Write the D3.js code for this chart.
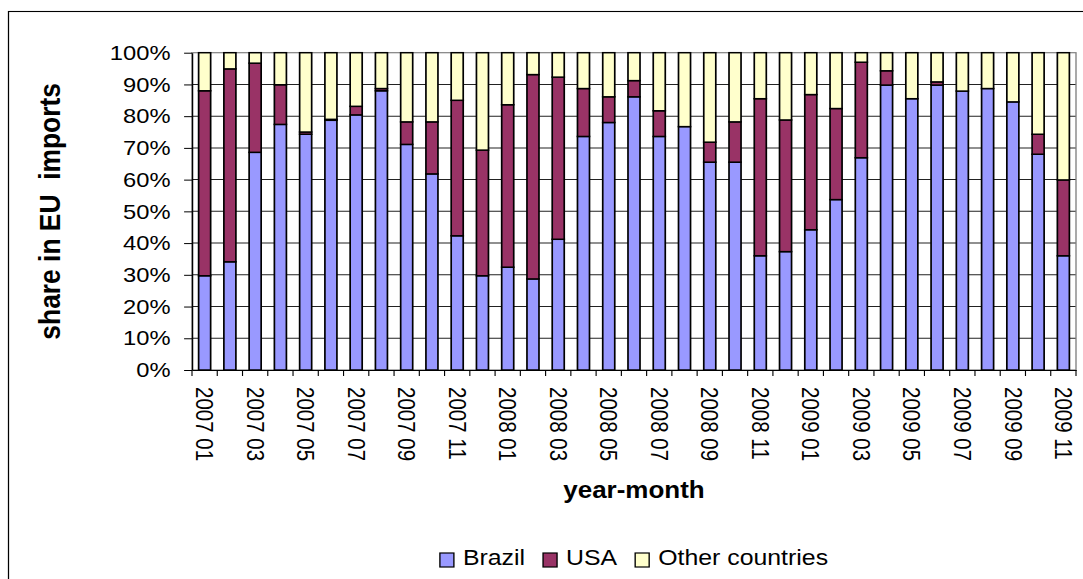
<!DOCTYPE html>
<html>
<head>
<meta charset="utf-8">
<script src="https://cdn.jsdelivr.net/npm/d3@7"></script>
<style>
  html, body { margin: 0; padding: 0; background: #fff; overflow: hidden; }
  svg { display: block; }
  text { font-family: "Liberation Sans", Arial, sans-serif; fill: #000; }
</style>
</head>
<body>
<svg id="chart" width="1083" height="579"></svg>
<script>
// Monthly categories, January 2007 to November 2009
const months = [
  "2007 01","2007 02","2007 03","2007 04","2007 05","2007 06","2007 07","2007 08","2007 09","2007 10","2007 11","2007 12",
  "2008 01","2008 02","2008 03","2008 04","2008 05","2008 06","2008 07","2008 08","2008 09","2008 10","2008 11","2008 12",
  "2009 01","2009 02","2009 03","2009 04","2009 05","2009 06","2009 07","2009 08","2009 09","2009 10","2009 11"
];

// Share of EU imports (%) by origin
const brazil = [
  29.7, 34.1, 68.6, 77.4, 74.3, 78.7, 80.4, 88.0, 71.1, 61.8, 42.3, 29.7,
  32.4, 28.7, 41.2, 73.6, 78.0, 86.1, 73.6, 76.7, 65.5, 65.5, 36.0, 37.3,
  44.2, 53.7, 66.9, 89.8, 85.5, 89.8, 87.9, 88.7, 84.5, 68.0, 36.0
];
const usa = [
  58.3, 60.8, 28.1, 12.5, 0.7, 0.3, 2.7, 0.7, 7.1, 16.4, 42.7, 39.6,
  51.2, 64.4, 51.1, 15.1, 8.1, 5.1, 8.1, 0.0, 6.3, 12.7, 49.5, 41.5,
  42.6, 28.7, 30.1, 4.5, 0.0, 1.0, 0.0, 0.0, 0.0, 6.3, 23.9
];
const otherCountries = [
  12.0, 5.1, 3.3, 10.1, 25.0, 21.0, 16.9, 11.3, 21.8, 21.8, 15.0, 30.7,
  16.4, 6.9, 7.7, 11.3, 13.9, 8.8, 18.3, 23.3, 28.2, 21.8, 14.5, 21.2,
  13.2, 17.6, 3.0, 5.7, 14.5, 9.2, 12.1, 11.3, 15.5, 25.7, 40.1
];

const seriesNames = ["Brazil", "USA", "Other countries"];
const seriesColors = ["#9999FF", "#993366", "#FFFFCC"];
const yTicks = [0, 10, 20, 30, 40, 50, 60, 70, 80, 90, 100];

// The drawing is laid out on a slightly narrower canvas and widened horizontally
const SX = 1.13;
const W = 1083 / SX;

const svg = d3.select("#chart");
const g = svg.append("g").attr("transform", `scale(${SX},1)`);

// Chart frame (runs off the right and bottom edges)
g.append("rect")
  .attr("x", 8.5 / SX).attr("y", 11.5)
  .attr("width", W + 40).attr("height", 640)
  .attr("fill", "#fff").attr("stroke", "#000").attr("stroke-width", 1.1);

const plot = { left: 192 / SX, right: 1076 / SX, top: 52.7, bottom: 370 };

const x = d3.scaleBand()
  .domain(months)
  .range([plot.left, plot.right])
  .paddingInner(1.1 / 2.1)
  .paddingOuter(0.55 / 2.1);

const y = d3.scaleLinear().domain([0, 100]).range([plot.bottom, plot.top]);

// Horizontal gridlines
g.append("g").selectAll("line")
  .data(yTicks.filter(d => d > 0 && d < 100))
  .join("line")
  .attr("x1", plot.left).attr("x2", plot.right)
  .attr("y1", d => y(d)).attr("y2", d => y(d))
  .attr("stroke", "#222").attr("stroke-width", 1);

// Plot area border
g.append("rect")
  .attr("x", plot.left).attr("y", y(100))
  .attr("width", plot.right - plot.left).attr("height", y(0) - y(100))
  .attr("fill", "none").attr("stroke", "#808080").attr("stroke-width", 1.2);

// Stacked bars
const rows = months.map((m, i) => ({
  month: m,
  "Brazil": brazil[i],
  "USA": usa[i],
  "Other countries": otherCountries[i]
}));
const stacked = d3.stack().keys(seriesNames)(rows);

g.append("g").selectAll("g")
  .data(stacked)
  .join("g")
  .attr("fill", (d, i) => seriesColors[i])
  .selectAll("rect")
  .data(d => d)
  .join("rect")
  .attr("x", d => x(d.data.month))
  .attr("width", x.bandwidth())
  .attr("y", d => y(d[1]))
  .attr("height", d => y(d[0]) - y(d[1]))
  .attr("stroke", "#000")
  .attr("stroke-width", 1.5);

// Y axis
const yAxis = g.append("g")
  .attr("transform", `translate(${plot.left},0)`)
  .call(d3.axisLeft(y).tickValues(yTicks).tickSize(7).tickSizeOuter(0).tickPadding(12)
    .tickFormat(d => d + "%"));
yAxis.select(".domain").attr("stroke", "#000").attr("stroke-width", 1.2);
yAxis.selectAll(".tick line").attr("stroke", "#000").attr("stroke-width", 1);
yAxis.selectAll(".tick text")
  .attr("font-size", 21)
  .attr("font-family", "Liberation Sans, Arial, sans-serif");

// X axis: line, boundary ticks and rotated labels on every second month
const xAxis = g.append("g")
  .attr("transform", `translate(0,${plot.bottom})`)
  .call(d3.axisBottom(x).tickSize(0).tickSizeOuter(0)
    .tickFormat((d, i) => i % 2 === 0 ? d : ""));
xAxis.select(".domain").attr("stroke", "#000").attr("stroke-width", 1.2);
xAxis.selectAll(".tick text")
  .attr("font-size", 20.5)
  .attr("font-family", "Liberation Sans, Arial, sans-serif")
  .attr("transform", "rotate(90)")
  .attr("x", 17)
  .attr("y", 0)
  .attr("dy", "0.36em")
  .style("text-anchor", "start");

const step = x.step();
const bounds = months.map(m => x(m) - (step - x.bandwidth()) / 2).concat([plot.right]);
xAxis.append("g").selectAll("line")
  .data(bounds)
  .join("line")
  .attr("x1", d => d).attr("x2", d => d)
  .attr("y1", 0).attr("y2", 6)
  .attr("stroke", "#000").attr("stroke-width", 1);

// Axis titles
g.append("text")
  .attr("transform", `translate(${50 / SX},${(plot.top + plot.bottom) / 2}) rotate(-90)`)
  .attr("text-anchor", "middle")
  .attr("dominant-baseline", "central")
  .attr("font-size", 26.4)
  .attr("font-weight", "bold")
  .style("white-space", "pre")
  .text("share in EU  imports");

g.append("text")
  .attr("x", (plot.left + plot.right) / 2)
  .attr("y", 498)
  .attr("text-anchor", "middle")
  .attr("font-size", 23)
  .attr("font-weight", "bold")
  .text("year-month");

// Legend, centred under the plot
const legend = g.append("g");
const swW = 14 / SX, swH = 14, gapSwatch = 9 / SX, gapItem = 18 / SX;
const items = legend.selectAll("g")
  .data(seriesNames)
  .join("g");
items.append("rect")
  .attr("width", swW).attr("height", swH)
  .attr("y", 553)
  .attr("fill", (d, i) => seriesColors[i])
  .attr("stroke", "#000").attr("stroke-width", 1.2);
items.append("text")
  .attr("x", swW + gapSwatch)
  .attr("y", 565)
  .attr("font-size", 22)
  .text(d => d);

let offset = 0;
const widths = [];
items.each(function () {
  const w = swW + gapSwatch + d3.select(this).select("text").node().getComputedTextLength();
  widths.push(w);
});
const total = d3.sum(widths) + gapItem * (widths.length - 1);
let start = (plot.left + plot.right) / 2 - total / 2;
items.attr("transform", (d, i) => {
  const tx = start + offset;
  offset += widths[i] + gapItem;
  return `translate(${tx},0)`;
});
</script>
</body>
</html>
